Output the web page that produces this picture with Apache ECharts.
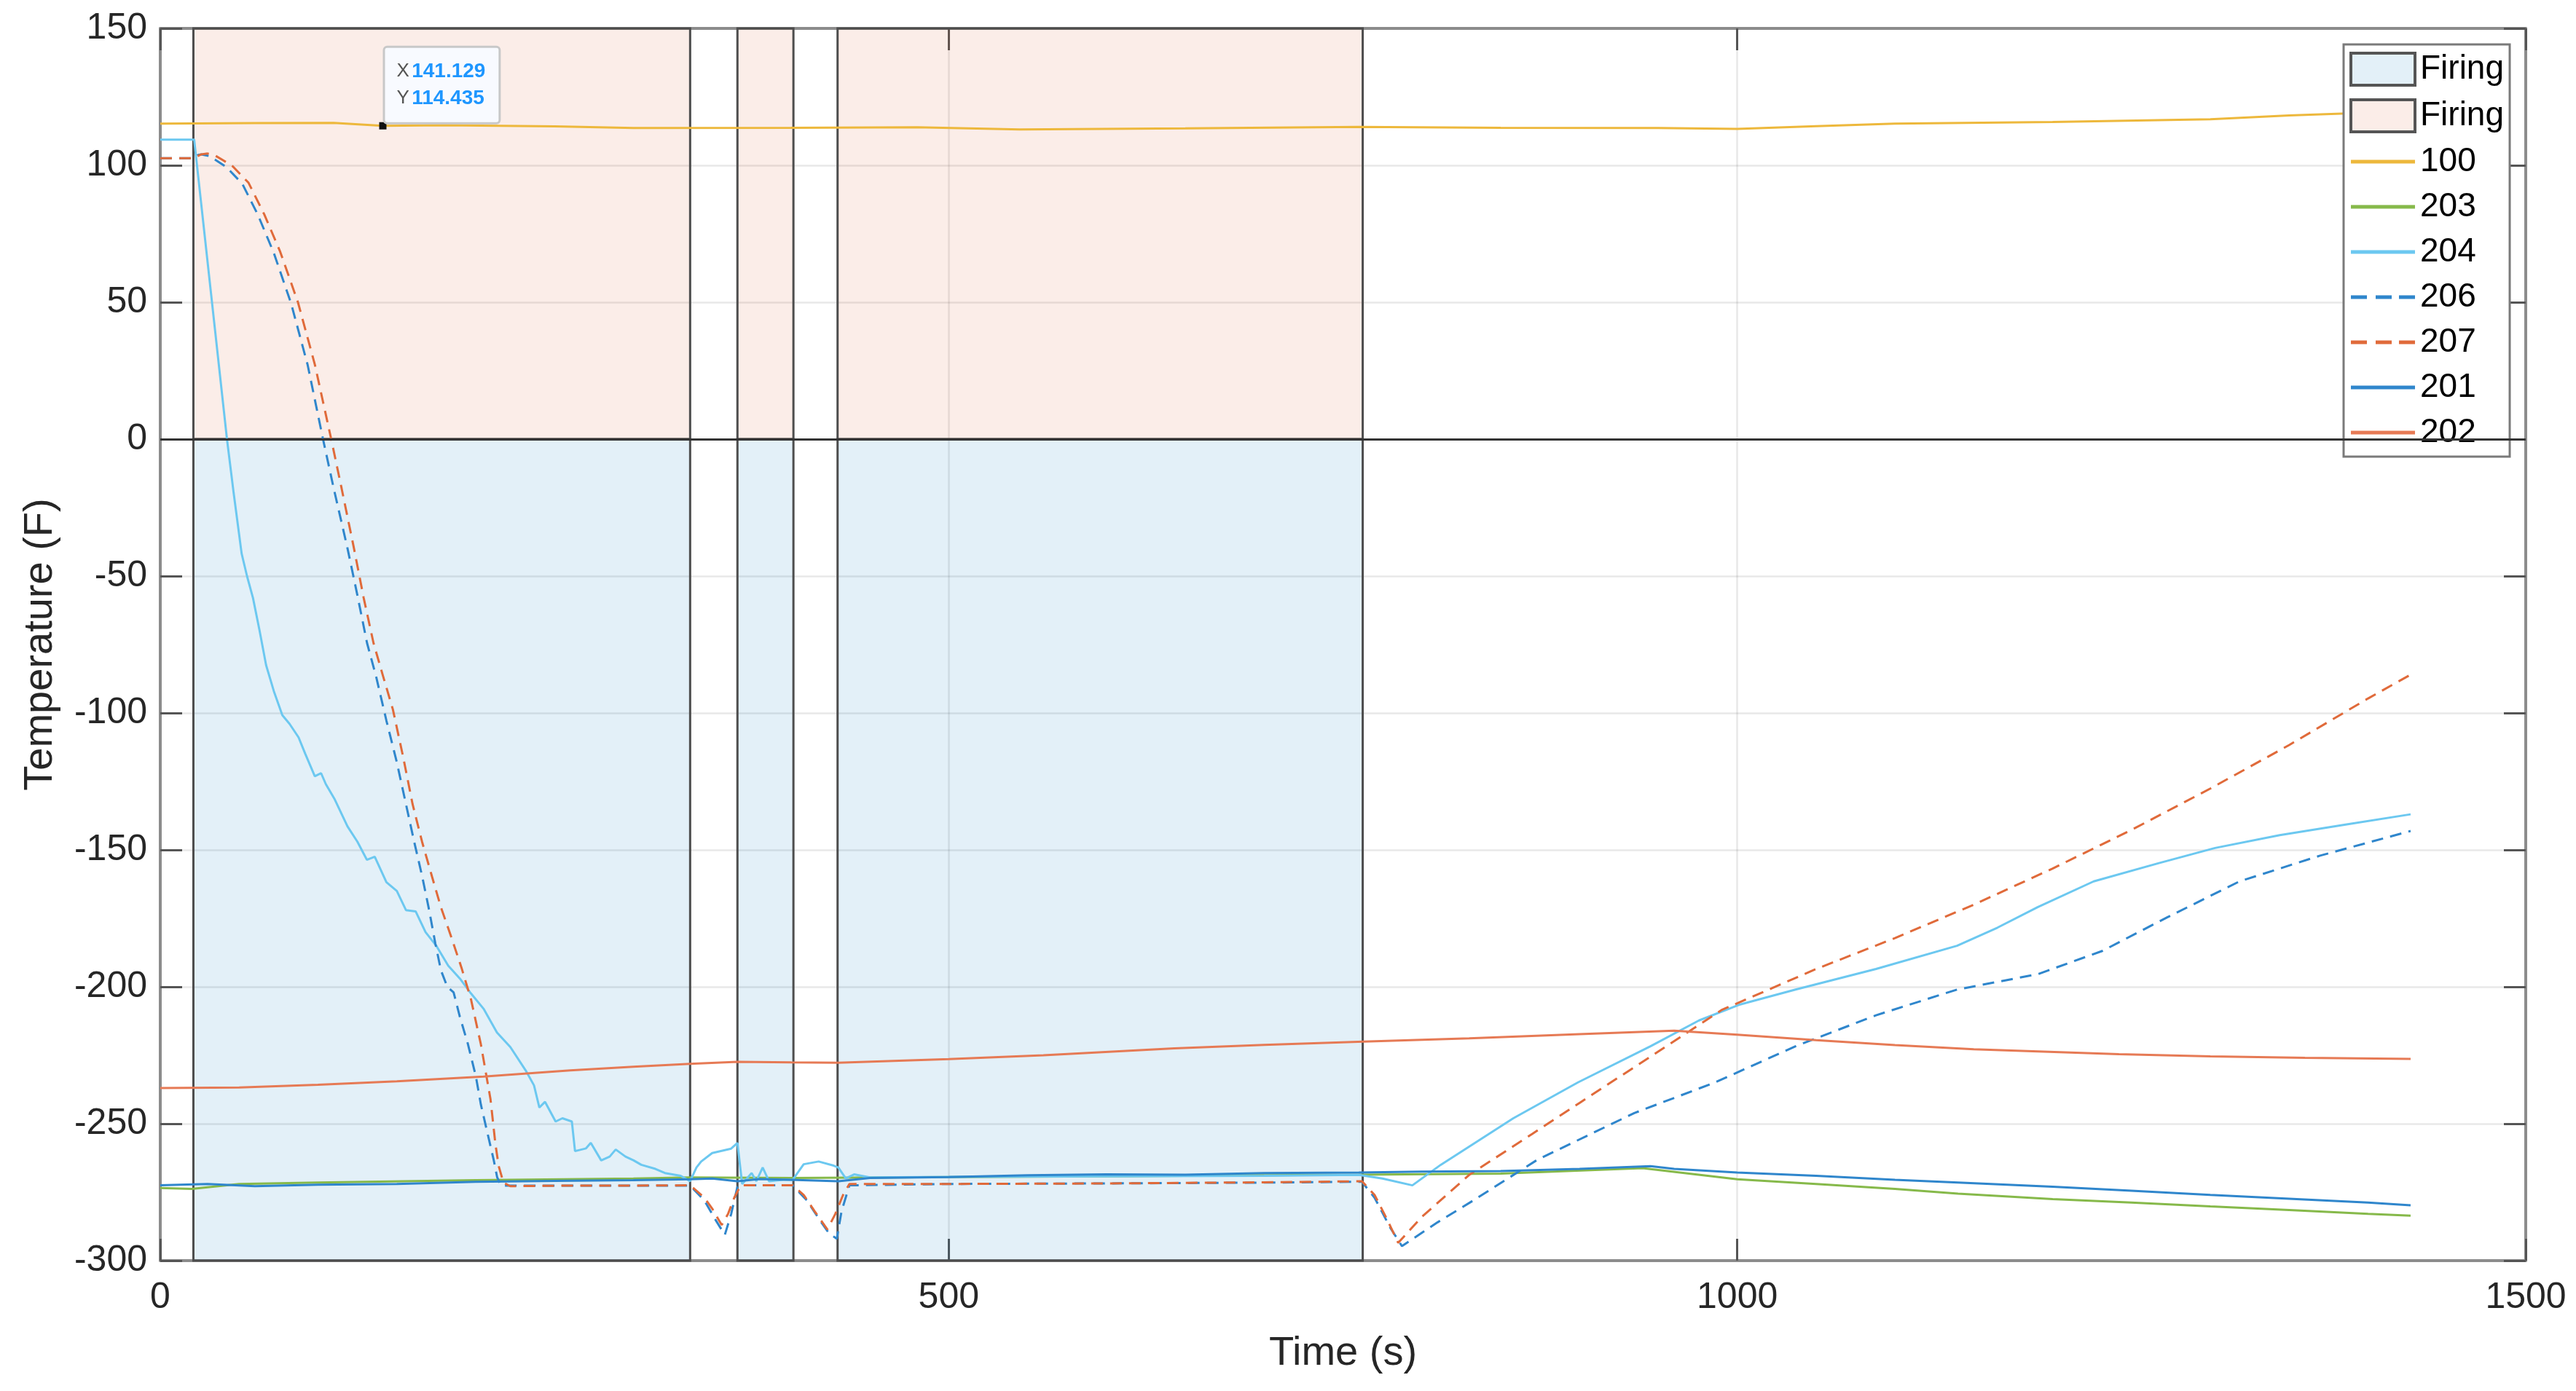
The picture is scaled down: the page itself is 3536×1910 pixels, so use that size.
<!DOCTYPE html>
<html>
<head>
<meta charset="utf-8">
<title>Temperature vs time</title>
<script src="https://cdn.jsdelivr.net/npm/echarts/dist/echarts.min.js"></script>
<style>
  html, body { margin: 0; padding: 0; background: #fff; }
  #chart { width: 3536px; height: 1910px; }
</style>
</head>
<body>
<div id="chart"></div>
<script>
// firing windows (s)
const fireStart = [21, 366, 429.5];
const fireEnd = [336, 401.5, 762.5];

// data tip
const tipX = 141.129;
const tipY = 114.435;

// [time (s), temperature (F)]
const s100 = [[0, 115.2], [60, 115.4], [110, 115.5], [141.129, 114.435], [180, 114.6], [250, 114.2],
  [300, 113.6], [400, 113.7], [480, 113.9], [545, 113.1], [650, 113.5], [760, 114.0], [850, 113.7],
  [950, 113.6], [1000, 113.3], [1050, 114.3], [1100, 115.2], [1200, 115.8], [1300, 116.8],
  [1350, 118.2], [1390, 119.0], [1427, 118.0]];

const s203 = [[0, -273.5], [20, -273.8], [50, -272], [100, -271.5], [200, -270.6], [300, -270],
  [336, -269.6], [400, -269.8], [500, -269.5], [600, -269.2], [700, -268.8], [760, -268.6],
  [850, -268.2], [940, -266.2], [1000, -270.3], [1050, -272], [1100, -273.8], [1140, -275.5],
  [1200, -277.5], [1250, -278.8], [1300, -280.2], [1350, -281.5], [1400, -282.9], [1427, -283.6]];

const s204 = [[0, 109.4], [21.5, 109.4], [42.3, 0], [46.5, -19.5], [51.6, -41.8], [55, -50],
  [58.8, -58], [63, -70], [67.1, -82.5], [72, -92], [77.4, -100.8], [82, -104], [87.7, -108.9],
  [92, -115], [98, -123.1], [102, -122], [105, -126], [110.4, -131.3], [118.7, -141.4], [125, -147],
  [131, -153.6], [136, -152.5], [143.4, -161.8], [150, -165], [155.8, -172], [162, -172.5],
  [168.2, -180], [175, -185], [182.6, -192.3], [190, -197], [197, -202.4], [205, -208],
  [213.5, -216.7], [222, -222], [232.1, -230.9], [237, -236], [240.4, -244.1], [244, -242],
  [250.7, -249.2], [255, -248], [261, -249.2], [263, -260], [270, -259], [273, -257],
  [279.6, -263.4], [285, -262], [288.8, -259.4], [295, -262], [300.2, -263.4], [305, -265],
  [314, -266.5], [320, -268], [330, -269], [336, -271], [340, -266], [343, -263.8], [350, -260.7],
  [362, -259.1], [366, -257], [369, -272], [375, -268], [378, -271], [382, -266], [386, -271],
  [395, -270.5], [401, -270.5], [408, -264.8], [417.5, -263.8], [427, -265.3], [430, -266],
  [434.7, -270], [440, -268.5], [450, -269.6], [500, -269.4], [600, -269.2], [700, -269],
  [760, -268.7], [775, -270], [794, -272.5], [812, -265], [858, -248], [899, -234.9],
  [945, -221.7], [975.7, -212.3], [1001, -206.6], [1037, -201], [1088, -193.5], [1139.4, -185],
  [1165, -178.4], [1190.5, -170.9], [1226, -161.5], [1267, -154.9], [1303, -149.3],
  [1344, -144.6], [1385, -140.8], [1427, -137]];

const s206 = [[0, 102.6], [21, 102.6], [24, 103.8], [26, 104], [31, 103.4], [36, 101.6], [42, 99.3],
  [52, 93.3], [62, 81.8], [72, 68], [83, 49.5], [93.5, 27], [103.2, 0], [110, -18], [118.7, -39.8],
  [125, -57], [131.1, -74.4], [137, -87], [143.4, -102.8], [150, -118], [155.8, -133.3],
  [161, -147], [166.1, -159.7], [170.5, -172], [174.4, -184.1], [178, -194], [182, -200],
  [186, -202], [190, -211], [195, -220.7], [200.2, -232.9], [203.3, -243], [207.4, -253.2],
  [211.5, -263.4], [213.6, -269.5], [216, -272.6], [260, -272.6], [300, -272.6], [336, -272.6],
  [345, -278], [352, -285], [358, -290.6], [362, -283], [366, -273], [370, -272.5], [401, -272.5],
  [410, -278], [418, -285], [424, -290], [429, -292], [432, -282], [437, -272.5], [500, -272],
  [600, -271.8], [700, -271.5], [762, -271.2], [770, -277], [780, -288], [787.4, -294.7],
  [810, -286], [832.4, -278.1], [873.4, -263.1], [934.7, -246.1], [986, -234.9], [1037, -221.7],
  [1088, -210.4], [1139.4, -201], [1190.5, -195.4], [1231.5, -186.9], [1272.4, -174.7],
  [1318.5, -161.5], [1369.6, -152.1], [1427, -143.1]];

const s207 = [[0, 102.6], [21, 102.6], [26, 104], [30, 104.3], [35, 103.5], [40, 101.8], [46, 99.6],
  [56, 93.6], [66, 82], [76, 68.5], [87.3, 50], [98, 27.3], [108.4, 0], [115, -18], [122.8, -39.8],
  [129, -58], [135.2, -74.4], [141, -86], [147.5, -98.7], [154, -116], [160, -133.3], [166, -147],
  [172.3, -159.7], [178, -171], [184.7, -182.1], [191, -193], [197, -204.5], [203.2, -220.7],
  [209.4, -241], [212.5, -257.3], [214.6, -265.5], [217.7, -271.6], [222, -272.8], [260, -272.6],
  [300, -272.6], [336, -272.5], [345, -277], [350, -281], [356, -287], [360, -283], [364, -277],
  [368, -272.5], [401, -272.5], [408, -276], [415, -282], [423, -288.6], [428, -283], [433, -276],
  [437, -272], [500, -272], [600, -271.8], [700, -271.4], [762, -271], [770, -276], [778, -285],
  [785, -293.5], [800, -284], [830, -268.7], [870, -253.7], [900, -242.4], [950, -223.6],
  [990, -208.5], [1050, -193.5], [1100, -182.2], [1150, -170], [1200, -156.8], [1250, -142.7],
  [1300, -127.6], [1350, -111.7], [1400, -94.7], [1427, -86]];

const s201 = [[0, -272.5], [30, -272], [60, -272.8], [100, -272.3], [150, -272], [200, -271.2],
  [250, -270.9], [300, -270.6], [336, -270.3], [350, -270], [366, -271], [380, -270.2],
  [400, -270.5], [430, -271], [450, -269.8], [500, -269.5], [550, -268.8], [600, -268.5],
  [650, -268.6], [700, -268], [760, -267.8], [800, -267.5], [850, -267.3], [900, -266.5],
  [945, -265.5], [960, -266.5], [1000, -267.8], [1050, -269], [1100, -270.5], [1140, -271.5],
  [1200, -273], [1250, -274.5], [1300, -276], [1350, -277.4], [1400, -278.8], [1427, -279.8]];

const s202 = [[0, -237], [50, -236.8], [100, -235.8], [150, -234.5], [205, -232.8], [260, -230.5],
  [300, -229.2], [336, -228.1], [366, -227.4], [400, -227.6], [430, -227.7], [500, -226.4],
  [560, -225], [643, -222.5], [700, -221.2], [763, -220], [830, -218.8], [900, -217.3],
  [960, -216], [1000, -217.5], [1050, -219.5], [1100, -221.3], [1150, -222.8], [1242, -224.6],
  [1300, -225.4], [1360, -225.9], [1427, -226.3]];

const FONT = '"Liberation Sans", Arial, Helvetica, sans-serif';
const BLUE_FILL = 'rgba(0,114,189,0.11)';
const PEACH_FILL = 'rgba(217,83,25,0.10)';
const EDGE = '#4d4d4d';

// legend swatches drawn as plain strokes (no marker), like the matlab legend
const SOLID_ICON = 'path://M0,0h88v5h-88z';
const DASH_ICON = 'path://M0,0h22v5h-22zM34,0h22v5h-22zM66,0h22v5h-22z';

function lineSeries(name, data, color, dashed) {
    return {
        name: name,
        type: 'line',
        data: data,
        symbol: 'none',
        z: 3,
        lineStyle: {color: color, width: 3, type: dashed ? [16, 10] : 'solid'},
        itemStyle: {color: color},
        emphasis: {disabled: true},
        silent: true
    };
}

const series100 = lineSeries('100', s100, '#EDB83C', false);
series100.markPoint = {
    silent: true,
    data: [{
        coord: [tipX, tipY],
        symbol: 'rect',
        symbolSize: 10,
        itemStyle: {color: '#111'},
        label: {
            show: true,
            position: [8, -102],
            formatter: `{k|X} {v|${tipX}}\n{k|Y} {v|${tipY}}`,
            backgroundColor: '#F8FAFF',
            borderColor: '#c8c8c8',
            borderWidth: 3,
            borderRadius: 3,
            padding: [14, 18, 14, 16],
            rich: {
                k: {fontSize: 26, color: '#555', fontFamily: FONT, lineHeight: 37},
                v: {fontSize: 28, color: '#1E96FF', fontWeight: 'bold', fontFamily: FONT, lineHeight: 37}
            }
        }
    }]
};

const axisLineStyle = {color: '#8c8c8c', width: 4};
const tickStyle = {show: true, inside: true, length: 30, lineStyle: {color: '#555', width: 3}};

const option = {
    animation: false,
    backgroundColor: '#fff',
    grid: {left: 220, right: 69, top: 39, bottom: 179, containLabel: false},
    legend: {
        orient: 'vertical',
        left: 3217,
        top: 61,
        padding: [10, 8, 10, 8],
        itemWidth: 88,
        itemHeight: 44,
        itemGap: 16,
        backgroundColor: '#fff',
        borderColor: '#7a7a7a',
        borderWidth: 3,
        textStyle: {fontSize: 46, color: '#000', fontFamily: FONT, padding: [0, 0, 0, 2]},
        formatter: n => n.trim(),
        selectedMode: false,
        data: [
            {name: 'Firing', icon: 'rect', itemStyle: {color: BLUE_FILL, borderColor: '#555', borderWidth: 4}},
            {name: 'Firing ', icon: 'rect', itemStyle: {color: PEACH_FILL, borderColor: '#555', borderWidth: 4}},
            {name: '100', icon: SOLID_ICON},
            {name: '203', icon: SOLID_ICON},
            {name: '204', icon: SOLID_ICON},
            {name: '206', icon: DASH_ICON},
            {name: '207', icon: DASH_ICON},
            {name: '201', icon: SOLID_ICON},
            {name: '202', icon: SOLID_ICON}
        ]
    },
    xAxis: [{
        type: 'value', min: 0, max: 1500, interval: 500, position: 'bottom',
        name: 'Time (s)', nameLocation: 'middle', nameGap: 100,
        nameTextStyle: {fontSize: 56, color: '#262626', fontFamily: FONT},
        axisLine: {show: true, onZero: false, lineStyle: axisLineStyle},
        axisTick: tickStyle,
        axisLabel: {fontSize: 50, color: '#262626', fontFamily: FONT, margin: 26, formatter: v => String(v)},
        splitLine: {show: true, lineStyle: {color: 'rgba(0,0,0,0.09)', width: 2.5}}
    }, {
        type: 'value', min: 0, max: 1500, interval: 500, position: 'top',
        axisLine: {show: true, onZero: false, lineStyle: axisLineStyle},
        axisTick: tickStyle,
        axisLabel: {show: false},
        splitLine: {show: false}
    }],
    yAxis: [{
        type: 'value', min: -300, max: 150, interval: 50, position: 'left',
        name: 'Temperature (F)', nameLocation: 'middle', nameGap: 136, nameRotate: 90,
        nameTextStyle: {fontSize: 56, color: '#262626', fontFamily: FONT},
        axisLine: {show: true, onZero: false, lineStyle: axisLineStyle},
        axisTick: tickStyle,
        axisLabel: {fontSize: 50, color: '#262626', fontFamily: FONT, margin: 18},
        splitLine: {show: true, lineStyle: {color: 'rgba(0,0,0,0.09)', width: 2.5}}
    }, {
        type: 'value', min: -300, max: 150, interval: 50, position: 'right',
        axisLine: {show: true, onZero: false, lineStyle: axisLineStyle},
        axisTick: tickStyle,
        axisLabel: {show: false},
        splitLine: {show: false}
    }],
    series: [
        {
            name: 'Firing',
            type: 'line',
            data: [],
            symbol: 'none',
            itemStyle: {color: BLUE_FILL},
            lineStyle: {width: 0},
            silent: true,
            markArea: {
                silent: true,
                itemStyle: {color: BLUE_FILL, borderColor: EDGE, borderWidth: 3},
                data: fireStart.map((s, i) => [{xAxis: s, yAxis: -300}, {xAxis: fireEnd[i], yAxis: 0}])
            },
            markLine: {
                silent: true,
                symbol: ['none', 'none'],
                label: {show: false},
                lineStyle: {color: '#333', width: 3, type: 'solid'},
                data: [{yAxis: 0}]
            }
        },
        {
            name: 'Firing ',
            type: 'line',
            data: [],
            symbol: 'none',
            itemStyle: {color: PEACH_FILL},
            lineStyle: {width: 0},
            silent: true,
            markArea: {
                silent: true,
                itemStyle: {color: PEACH_FILL, borderColor: EDGE, borderWidth: 3},
                data: fireStart.map((s, i) => [{xAxis: s, yAxis: 0}, {xAxis: fireEnd[i], yAxis: 150}])
            }
        },
        series100,
        lineSeries('203', s203, '#86B94A', false),
        lineSeries('204', s204, '#6CC8F0', false),
        lineSeries('206', s206, '#2F86CC', true),
        lineSeries('207', s207, '#E06A3A', true),
        lineSeries('201', s201, '#2F86CC', false),
        lineSeries('202', s202, '#E67A55', false)
    ]
};

const chart = echarts.init(document.getElementById('chart'), null, {renderer: 'canvas'});
chart.setOption(option);
</script>
</body>
</html>
